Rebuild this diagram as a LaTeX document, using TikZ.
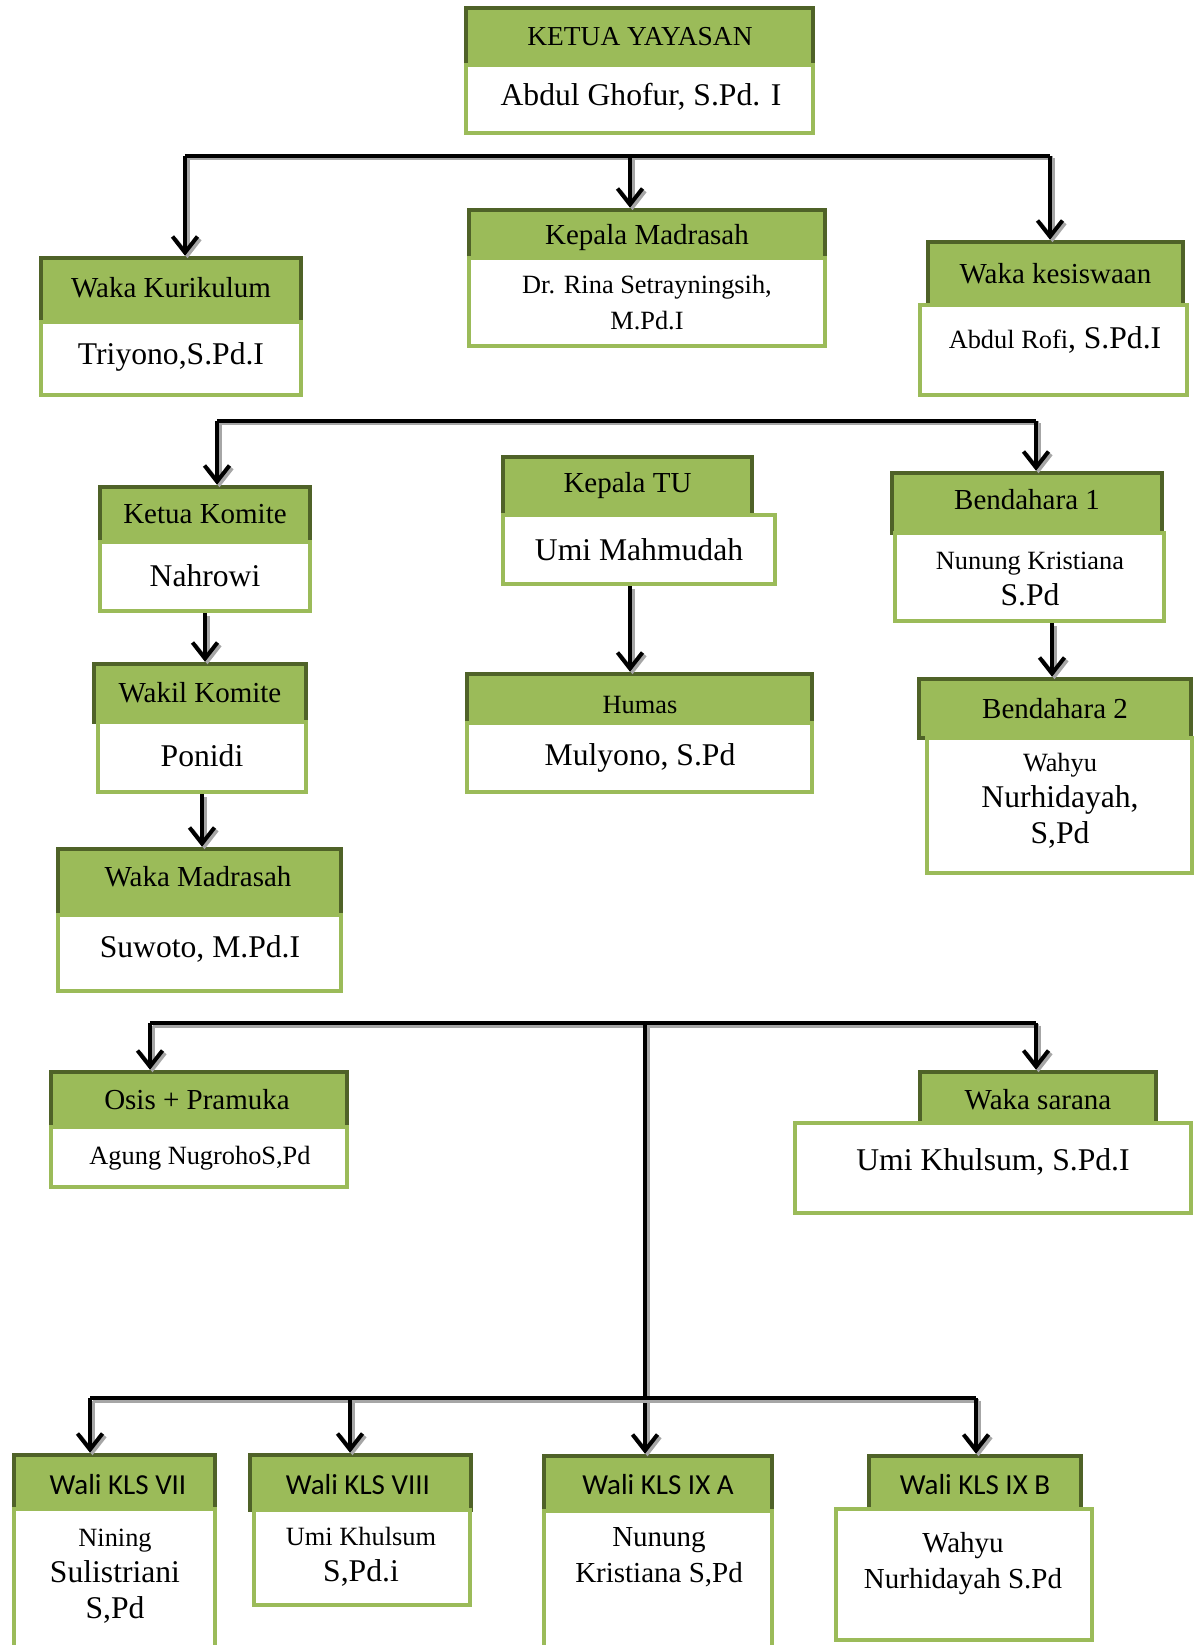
\documentclass[tikz,border=0pt]{standalone}
\usepackage{fontspec}
\setmainfont{Liberation Serif}
\newfontfamily\calibri{Carlito}
\usetikzlibrary{fit,arrows.meta}
\definecolor{hgreen}{HTML}{9BBB59}
\definecolor{hdark}{HTML}{4F6228}
\newcommand{\smtext}{\fontsize{15}{20.5}\selectfont}

\begin{document}
\begin{tikzpicture}[x=0.02cm,y=-0.02cm,
  >={Straight Barb[length=0.32cm,width=0.5cm]},
  head/.style={draw=hdark,fill=hgreen,line width=0.09cm,inner sep=0pt},
  body/.style={draw=hgreen,fill=white,line width=0.09cm,inner sep=0pt},
  htxt/.style={inner sep=0pt,font=\fontsize{16.5}{20.5}\selectfont},
  wtxt/.style={inner sep=0pt,font=\calibri\fontsize{16.5}{20.5}\selectfont},
  txt/.style={align=center,inner sep=0pt,font=\fontsize{18}{20.5}\selectfont},
  conn/.style={line width=0.08cm,preaction={draw=black!35,line width=0.08cm,transform canvas={shift={(0.05cm,-0.05cm)}}}}]
\clip (0,0) rectangle (1194,1645);

% top
\node[head,fit={(466,8)(813,65)}] (ketuaH) {};
\node[body,fit={(466,65)(813,133)}] (ketuaB) {};
\node[htxt,font=\fontsize{15.6}{20}\selectfont] (ketuaL) at (640,37) {KETUA YAYASAN};
\node[txt] (ketuaT) at (641,97) {Abdul Ghofur, S.Pd. I};

% second row
\node[head,fit={(41,258)(301,322)}] (kurH) {};
\node[body,fit={(41,322)(301,395)}] (kurB) {};
\node[htxt] (kurL) at (171,288) {Waka Kurikulum};
\node[txt] (kurT) at (171,357) {Triyono,S.Pd.I};

\node[head,fit={(469,210)(825,258)}] (kepH) {};
\node[body,fit={(469,258)(825,346)}] (kepB) {};
\node[htxt] (kepL) at (647,238) {Kepala Madrasah};
\node[txt,font=\smtext] (kepT) at (647,303) {Dr. Rina Setrayningsih,\\M.Pd.I};

\node[head,fit={(928,242)(1183,305)}] (kesH) {};
\node[body,fit={(920,305)(1187,395)}] (kesB) {};
\node[htxt] (kesL) at (kesH) {Waka kesiswaan};
\node[txt] (kesT) at (1055,340) {{\smtext Abdul Rofi}, S.Pd.I};

% third row
\node[head,fit={(100,487)(310,542)}] (komH) {};
\node[body,fit={(100,542)(310,611)}] (komB) {};
\node[htxt] (komL) at (komH) {Ketua Komite};
\node[txt] (komT) at (205,576) {Nahrowi};

\node[head,fit={(94,664)(306,722)}] (wakilH) {};
\node[body,fit={(98,722)(306,792)}] (wakilB) {};
\node[htxt] (wakilL) at (wakilH) {Wakil Komite};
\node[txt] (wakilT) at (202,756) {Ponidi};

\node[head,fit={(58,849)(341,915)}] (wmadH) {};
\node[body,fit={(58,915)(341,991)}] (wmadB) {};
\node[htxt] (wmadL) at (198,877) {Waka Madrasah};
\node[txt] (wmadT) at (200,949) {Suwoto, M.Pd.I};

\node[head,fit={(503,457)(752,515)}] (tuH) {};
\node[body,fit={(503,515)(775,584)}] (tuB) {};
\node[htxt] (tuL) at (tuH) {Kepala TU};
\node[txt] (tuT) at (639,550) {Umi Mahmudah};

\node[head,fit={(467,674)(812,723)}] (humasH) {};
\node[body,fit={(467,723)(812,792)}] (humasB) {};
\node[htxt,font=\smtext] (humasL) at (640,705) {Humas};
\node[txt] (humasT) at (640,758) {Mulyono, S.Pd};

\node[head,fit={(892,473)(1162,533)}] (b1H) {};
\node[body,fit={(895,533)(1164,621)}] (b1B) {};
\node[htxt] (b1L) at (1027,500) {Bendahara 1};
\node[txt] (b1T) at (1030,579) {{\smtext Nunung Kristiana}\\S.Pd};

\node[head,fit={(919,679)(1191,738)}] (b2H) {};
\node[body,fit={(927,738)(1192,873)}] (b2B) {};
\node[htxt] (b2L) at (b2H) {Bendahara 2};
\node[txt] (b2T) at (1060,801) {{\smtext Wahyu}\\Nurhidayah,\\S,Pd};

% fourth row
\node[head,fit={(51,1072)(347,1127)}] (osisH) {};
\node[body,fit={(51,1127)(347,1187)}] (osisB) {};
\node[htxt] (osisL) at (197,1100) {Osis + Pramuka};
\node[txt,font=\smtext] (osisT) at (200,1158) {Agung NugrohoS,Pd};

\node[head,fit={(920,1072)(1156,1123)}] (saranaH) {};
\node[body,fit={(795,1123)(1191,1213)}] (saranaB) {};
\node[htxt] (saranaL) at (1038,1100) {Waka sarana};
\node[txt] (saranaT) at (993,1162) {Umi Khulsum, S.Pd.I};

% wali kelas
\node[head,fit={(14,1455)(215,1509)}] (w7H) {};
\node[body,fit={(14,1509)(215,1680)}] (w7B) {};
\node[wtxt] (w7L) at (118,1485) {Wali KLS VII};
\node[txt] (w7T) at (115,1576) {{\smtext Nining}\\Sulistriani\\S,Pd};

\node[head,fit={(250,1455)(471,1510)}] (w8H) {};
\node[body,fit={(254,1510)(470,1605)}] (w8B) {};
\node[wtxt] (w8L) at (358,1485) {Wali KLS VIII};
\node[txt] (w8T) at (361,1557) {{\smtext Umi Khulsum}\\S,Pd.i};

\node[head,fit={(544,1456)(772,1511)}] (w9aH) {};
\node[body,fit={(544,1511)(772,1680)}] (w9aB) {};
\node[wtxt] (w9aL) at (658,1485) {Wali KLS IX A};
\node[txt,font=\fontsize{16.5}{20.5}\selectfont] (w9aT) at (659,1557) {Nunung\\Kristiana S,Pd};

\node[head,fit={(869,1456)(1081,1509)}] (w9bH) {};
\node[body,fit={(836,1509)(1092,1640)}] (w9bB) {};
\node[wtxt] (w9bL) at (975,1485) {Wali KLS IX B};
\node[txt,font=\fontsize{16.5}{20.5}\selectfont] (w9bT) at (963,1564) {Wahyu\\Nurhidayah S.Pd};

% lines
\coordinate (l1w) at (185,156);
\coordinate (l1m) at (630,156);
\coordinate (l1e) at (1050,156);
\draw[conn] (l1w) -- (l1e);
\draw[conn,->] (l1w) -- (l1w |- kurH.north);
\draw[conn,->] (l1m) -- (l1m |- kepH.north);
\draw[conn,->] (l1e) -- (l1e |- kesH.north);

\coordinate (l2w) at (217,421);
\coordinate (l2e) at (1036,421);
\draw[conn] (l2w) -- (l2e);
\draw[conn,->] (l2w) -- (l2w |- komH.north);
\draw[conn,->] (l2e) -- (l2e |- b1H.north);

\draw[conn,->] (komB.south) -- (komB.south |- wakilH.north);
\draw[conn,->] (wakilB.south) -- (wakilB.south |- wmadH.north);
\draw[conn,->] ([xshift=-0.18cm]tuB.south) -- ([xshift=-0.18cm]tuB.south |- humasH.north);
\draw[conn,->] ([xshift=0.45cm]b1B.south) -- ([xshift=0.45cm]b1B.south |- b2H.north);

\coordinate (l3w) at (150,1023);
\coordinate (l3m) at (645,1023);
\coordinate (l3e) at (1036,1023);
\draw[conn] (l3w) -- (l3e);
\draw[conn,->] (l3w) -- (l3w |- osisH.north);
\draw[conn,->] (l3e) -- (l3e |- saranaH.north);
\draw[conn,->] (l3m) -- (l3m |- w9aH.north);

\coordinate (l4w) at (90,1398);
\coordinate (l4b) at (350,1398);
\coordinate (l4e) at (976,1398);
\draw[conn] (l4w) -- (l4e);
\draw[conn,->] (l4w) -- (l4w |- w7H.north);
\draw[conn,->] (l4b) -- (l4b |- w8H.north);
\draw[conn,->] (l4e) -- (l4e |- w9bH.north);
\end{tikzpicture}
\end{document}
